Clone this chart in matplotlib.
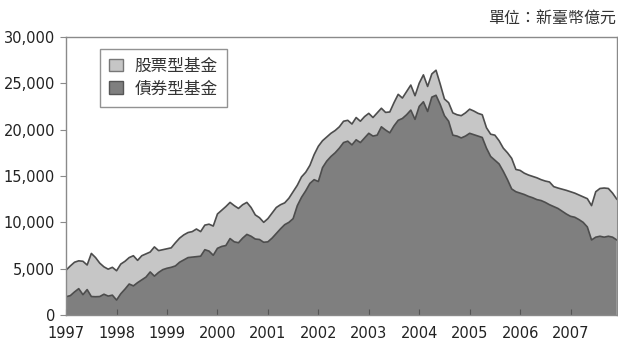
import numpy as np
import matplotlib
matplotlib.use("Agg")
import matplotlib.pyplot as plt
from matplotlib.patches import Patch
from matplotlib.ticker import FuncFormatter

plt.rcParams['font.family'] = ['DejaVu Sans']
cjk = ['Noto Sans CJK TC', 'DejaVu Sans']

# 月底規模（新臺幣億元），1997/01 ~ 2007/12
years = list(range(1997, 2008))

total = [
    # 1997
    4850, 5300, 5700, 5850, 5800, 5400, 6650, 6200, 5600, 5200, 4950, 5150,
    # 1998
    4780, 5500, 5800, 6200, 6400, 5900, 6400, 6600, 6800, 7350, 6950, 7050,
    # 1999
    7150, 7250, 7800, 8300, 8650, 8900, 9000, 9280, 9000, 9700, 9800, 9600,
    # 2000
    10900, 11300, 11700, 12150, 11800, 11500, 11900, 12150, 11600, 10800, 10500, 10000,
    # 2001
    10400, 11000, 11600, 11900, 12100, 12600, 13300, 14000, 14900, 15400, 16150, 17300,
    # 2002
    18200, 18800, 19200, 19600, 19900, 20300, 20900, 21000, 20600, 21300, 20900, 21400,
    # 2003
    21750, 21300, 21800, 22300, 21850, 21900, 22900, 23800, 23400, 24100, 24800, 23650,
    # 2004
    25000, 25900, 24650, 26000, 26400, 24900, 23300, 22900, 21800, 21600, 21500, 21800,
    # 2005
    22200, 22000, 21750, 21600, 20200, 19500, 19400, 18800, 18000, 17500, 16900, 15700,
    # 2006
    15600, 15300, 15100, 14950, 14800, 14600, 14450, 14350, 13850, 13700, 13580, 13450,
    # 2007
    13300, 13150, 12950, 12750, 12550, 11800, 13300, 13650, 13700, 13650, 13150, 12500,
]

bond = [
    # 1997
    1980, 2100, 2500, 2850, 2200, 2750, 2000, 1980, 2000, 2250, 2050, 2150,
    # 1998
    1620, 2300, 2800, 3350, 3150, 3500, 3800, 4100, 4650, 4200, 4600, 4900,
    # 1999
    5050, 5150, 5300, 5700, 5950, 6200, 6250, 6300, 6350, 7050, 6900, 6450,
    # 2000
    7200, 7400, 7500, 8250, 7900, 7800, 8300, 8700, 8500, 8200, 8150, 7850,
    # 2001
    7900, 8300, 8800, 9300, 9750, 10000, 10400, 11800, 12700, 13400, 14200, 14600,
    # 2002
    14400, 15900, 16600, 17100, 17500, 18000, 18600, 18750, 18350, 18900, 18600, 19100,
    # 2003
    19600, 19300, 19400, 20300, 19950, 19650, 20400, 21000, 21200, 21600, 22100, 21100,
    # 2004
    22500, 23000, 21950, 23500, 23700, 22700, 21500, 20900, 19400, 19300, 19100, 19300,
    # 2005
    19600, 19450, 19300, 19150, 18000, 17100, 16700, 16300, 15500, 14600, 13600, 13300,
    # 2006
    13150, 13000, 12800, 12650, 12450, 12350, 12150, 11900, 11700, 11500, 11200, 10900,
    # 2007
    10650, 10550, 10300, 10000, 9500, 8100, 8400, 8500, 8400, 8500, 8400, 8100,
]

total = np.array(total, dtype=float)
bond = np.array(bond, dtype=float)
stock = total - bond
t = 1997 + np.arange(len(total)) / 12.0

light = '#c6c6c6'
dark = '#7f7f7f'
edge = '#4d4d4d'

fig = plt.figure(figsize=(6.18, 3.41), dpi=100)
ax = fig.add_axes([0.107, 0.076, 0.891, 0.816])

ax.stackplot(t, bond, stock, colors=[dark, light], linewidth=0)
ax.plot(t, bond, color=edge, lw=1.2)
ax.plot(t, total, color=edge, lw=1.2)

ax.set_xlim(t[0], t[-1])
ax.set_ylim(0, 30000)
ax.set_xticks(years)
ax.set_yticks(range(0, 30001, 5000))
ax.yaxis.set_major_formatter(FuncFormatter(lambda v, p: f"{int(v):,}"))

for s in ax.spines.values():
    s.set_color('#8a8a8a')
    s.set_linewidth(1.0)

ax.tick_params(axis='x', direction='in', length=4, color='#555555',
               labelsize=10.5, pad=8, labelcolor='#222222')
ax.tick_params(axis='y', direction='out', length=4, color='#8a8a8a',
               labelsize=10.5, pad=4, labelcolor='#222222')

handles = [Patch(facecolor=light, edgecolor='#777777', lw=1.0),
           Patch(facecolor=dark, edgecolor='#555555', lw=1.0)]
leg = ax.legend(handles, ['股票型基金', '債券型基金'], loc='upper left',
                bbox_to_anchor=(0.062, 0.958), prop={'family': cjk, 'size': 12},
                frameon=True, fancybox=False, edgecolor='#777777',
                handlelength=0.8, handleheight=0.8, handletextpad=0.7,
                labelspacing=0.35, borderpad=0.55, borderaxespad=0)
leg.get_frame().set_linewidth(1.0)
for txt in leg.get_texts():
    txt.set_color('#333333')

fig.text(0.997, 0.945, '單位：新臺幣億元', ha='right', va='center',
         family=cjk, fontsize=11.5, color='#333333')

fig.savefig('out.png', dpi=100)
